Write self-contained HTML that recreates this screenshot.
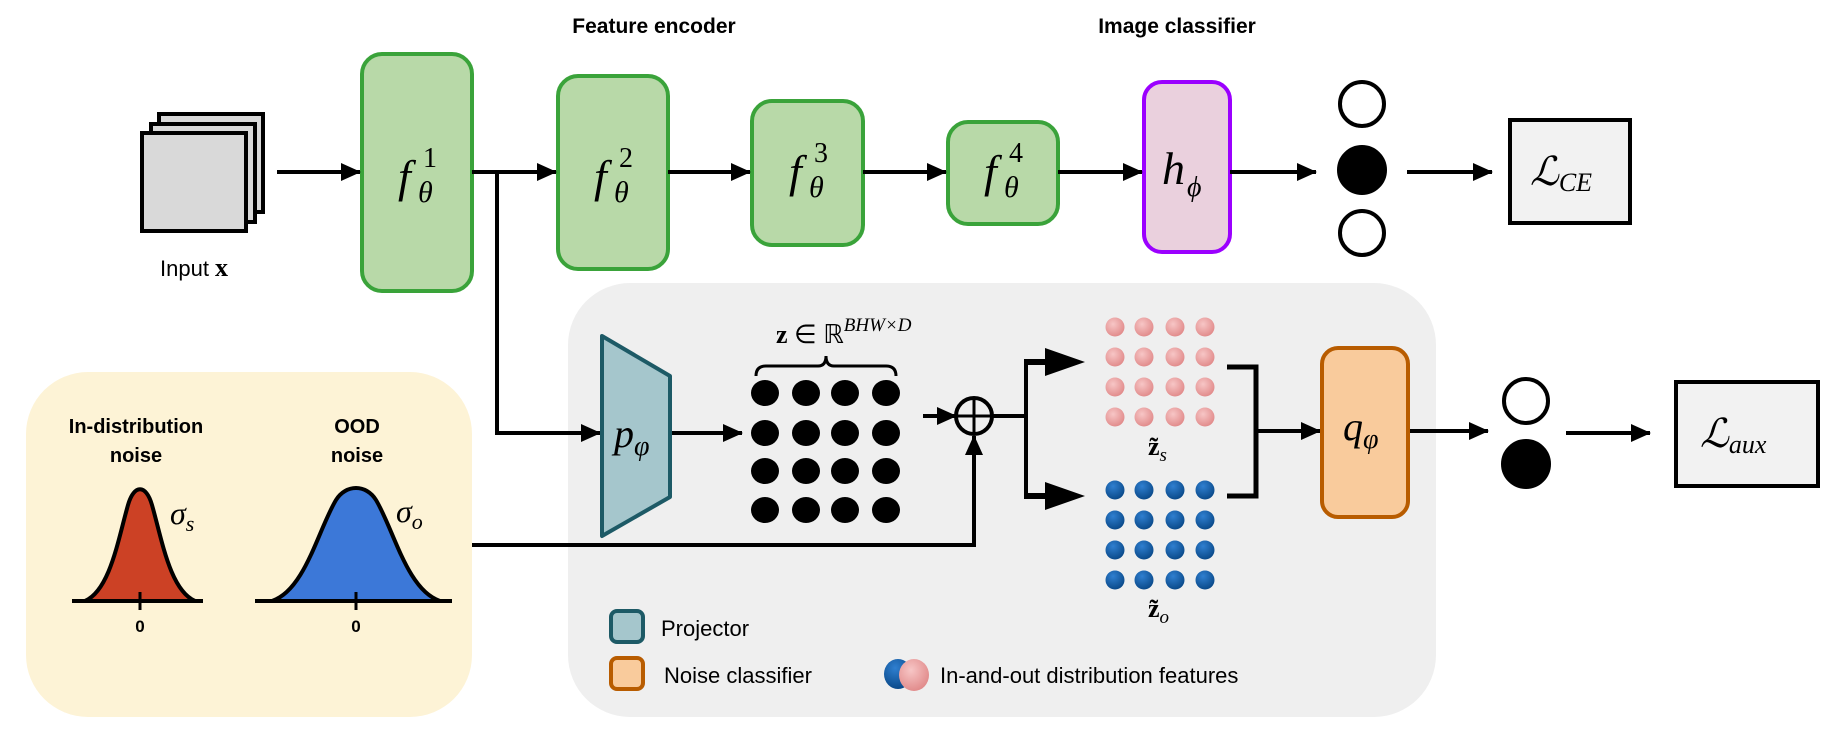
<!DOCTYPE html>
<html><head><meta charset="utf-8"><style>
html,body{margin:0;padding:0;background:#fff;}
svg{display:block;}
.m{font-family:"Liberation Serif",serif;font-style:italic;}
.s{font-family:"Liberation Sans",sans-serif;}
</style></head><body>
<svg width="1832" height="747" viewBox="0 0 1832 747" xmlns="http://www.w3.org/2000/svg">
<defs>
<marker id="a" markerWidth="20" markerHeight="18" refX="19" refY="9" orient="auto" markerUnits="userSpaceOnUse" viewBox="0 0 20 18"><path d="M0,0 L20,9 L0,18 z" fill="#000"/></marker>
<radialGradient id="pk" cx="0.4" cy="0.35" r="0.7"><stop offset="0" stop-color="#f7c6c6"/><stop offset="1" stop-color="#e08888"/></radialGradient>
<radialGradient id="bl" cx="0.4" cy="0.3" r="0.7"><stop offset="0" stop-color="#2f7fd0"/><stop offset="1" stop-color="#0b4a8a"/></radialGradient>
</defs>
<!-- panels -->
<rect x="26" y="372" width="446" height="345" rx="62" fill="#fdf3d6"/>
<rect x="568" y="283" width="868" height="434" rx="62" fill="#efefef"/>
<!-- titles -->
<text x="654" y="33" class="s" font-size="21" font-weight="bold" text-anchor="middle">Feature encoder</text>
<text x="1177" y="33" class="s" font-size="21" font-weight="bold" text-anchor="middle">Image classifier</text>
<!-- input stack -->
<rect x="159" y="114" width="104" height="98" fill="#d9d9d9" stroke="#000" stroke-width="4"/>
<rect x="151" y="124" width="104" height="98" fill="#d9d9d9" stroke="#000" stroke-width="4"/>
<rect x="142" y="133" width="104" height="98" fill="#d9d9d9" stroke="#000" stroke-width="4"/>
<text x="160" y="276" class="s" font-size="22">Input <tspan font-family="Liberation Serif" font-weight="bold" font-size="26">x</tspan></text>
<!-- encoder boxes -->
<g fill="#b8d9a8" stroke="#3aa33a" stroke-width="4">
<rect x="362" y="54" width="110" height="237" rx="20"/>
<rect x="558" y="76" width="110" height="193" rx="20"/>
<rect x="752" y="101" width="111" height="144" rx="20"/>
<rect x="948" y="122" width="110" height="102" rx="20"/>
</g>
<rect x="1144" y="82" width="86" height="170" rx="18" fill="#ead0dd" stroke="#9b00ff" stroke-width="4"/>
<g class="m" font-size="46">
<text x="398" y="192">f</text><text x="423" y="167" font-size="28" font-style="normal">1</text><text x="418" y="202" font-size="30">θ</text>
<text x="594" y="192">f</text><text x="619" y="167" font-size="28" font-style="normal">2</text><text x="614" y="202" font-size="30">θ</text>
<text x="789" y="187">f</text><text x="814" y="162" font-size="28" font-style="normal">3</text><text x="809" y="197" font-size="30">θ</text>
<text x="984" y="187">f</text><text x="1009" y="162" font-size="28" font-style="normal">4</text><text x="1004" y="197" font-size="30">θ</text>
<text x="1162" y="184">h</text><text x="1187" y="196" font-size="28">ϕ</text>
</g>
<!-- output circles -->
<g stroke="#000" stroke-width="4">
<ellipse cx="1362" cy="104" rx="22" ry="22" fill="#fff"/>
<ellipse cx="1362" cy="170" rx="23" ry="23" fill="#000"/>
<ellipse cx="1362" cy="233" rx="22" ry="22" fill="#fff"/>
<ellipse cx="1526" cy="401" rx="22" ry="22" fill="#fff"/>
<ellipse cx="1526" cy="464" rx="23" ry="23" fill="#000"/>
</g>
<rect x="1510" y="120" width="120" height="103" fill="#f2f2f2" stroke="#000" stroke-width="4"/>
<text x="1530" y="185" class="m" font-size="40">ℒ<tspan font-size="26" dy="6">CE</tspan></text>
<rect x="1676" y="382" width="142" height="104" fill="#f2f2f2" stroke="#000" stroke-width="4"/>
<text x="1700" y="447" class="m" font-size="40">ℒ<tspan font-size="26" dy="6">aux</tspan></text>
<!-- arrows -->
<g stroke="#000" stroke-width="4" fill="none" marker-end="url(#a)">
<line x1="277" y1="172" x2="360" y2="172"/>
<line x1="472" y1="172" x2="556" y2="172"/>
<line x1="668" y1="172" x2="750" y2="172"/>
<line x1="863" y1="172" x2="946" y2="172"/>
<line x1="1058" y1="172" x2="1142" y2="172"/>
<line x1="1230" y1="172" x2="1316" y2="172"/>
<line x1="1407" y1="172" x2="1492" y2="172"/>
<polyline points="497,172 497,433 600,433"/>
<line x1="670" y1="433" x2="742" y2="433"/>
<line x1="923" y1="416" x2="956" y2="416"/>
<polyline points="472,545 974,545 974,436"/>
<line x1="1256" y1="431" x2="1320" y2="431"/>
<line x1="1408" y1="431" x2="1488" y2="431"/>
<line x1="1566" y1="433" x2="1650" y2="433"/>
</g>
<!-- big arrows to features -->
<polyline points="992,416 1026,416" stroke="#000" stroke-width="4"/>
<polyline points="1026,362 1026,496" stroke="#000" stroke-width="4" fill="none"/>
<line x1="1024" y1="362" x2="1060" y2="362" stroke="#000" stroke-width="6"/>
<line x1="1024" y1="496" x2="1060" y2="496" stroke="#000" stroke-width="6"/>
<path d="M1045,348 L1085,362 L1045,376 z M1045,482 L1085,496 L1045,510 z"/>
<!-- bracket -->
<polyline points="1227,367 1256,367 1256,496 1227,496" stroke="#000" stroke-width="5" fill="none"/>
<!-- oplus -->
<circle cx="974" cy="416" r="18" fill="none" stroke="#000" stroke-width="4"/>
<line x1="956" y1="416" x2="992" y2="416" stroke="#000" stroke-width="3"/>
<line x1="974" y1="398" x2="974" y2="434" stroke="#000" stroke-width="3"/>
<!-- projector -->
<path d="M602,336 L670,376 L670,497 L602,536 z" fill="#a5c6cc" stroke="#1d5a66" stroke-width="4" stroke-linejoin="round"/>
<text x="614" y="447" class="m" font-size="40">p<tspan font-size="28" dy="8">φ</tspan></text>
<!-- black dots -->
<g fill="#000">
<ellipse cx="765" cy="393" rx="14" ry="13"/><ellipse cx="806" cy="393" rx="14" ry="13"/><ellipse cx="845" cy="393" rx="14" ry="13"/><ellipse cx="886" cy="393" rx="14" ry="13"/>
<ellipse cx="765" cy="433" rx="14" ry="13"/><ellipse cx="806" cy="433" rx="14" ry="13"/><ellipse cx="845" cy="433" rx="14" ry="13"/><ellipse cx="886" cy="433" rx="14" ry="13"/>
<ellipse cx="765" cy="471" rx="14" ry="13"/><ellipse cx="806" cy="471" rx="14" ry="13"/><ellipse cx="845" cy="471" rx="14" ry="13"/><ellipse cx="886" cy="471" rx="14" ry="13"/>
<ellipse cx="765" cy="510" rx="14" ry="13"/><ellipse cx="806" cy="510" rx="14" ry="13"/><ellipse cx="845" cy="510" rx="14" ry="13"/><ellipse cx="886" cy="510" rx="14" ry="13"/>
</g>
<path d="M756,376 Q756,366 766,366 L818,366 Q826,366 826,356 Q826,366 834,366 L886,366 Q896,366 896,376" fill="none" stroke="#000" stroke-width="3"/>
<text x="776" y="343" class="m" font-size="26"><tspan font-style="normal" font-weight="bold">z</tspan> <tspan font-style="normal">∈ ℝ</tspan><tspan font-size="19" dy="-12">BHW×D</tspan></text>
<!-- pink/blue dots -->
<g fill="url(#pk)">
<circle cx="1115" cy="327" r="9.5"/><circle cx="1144" cy="327" r="9.5"/><circle cx="1175" cy="327" r="9.5"/><circle cx="1205" cy="327" r="9.5"/>
<circle cx="1115" cy="357" r="9.5"/><circle cx="1144" cy="357" r="9.5"/><circle cx="1175" cy="357" r="9.5"/><circle cx="1205" cy="357" r="9.5"/>
<circle cx="1115" cy="387" r="9.5"/><circle cx="1144" cy="387" r="9.5"/><circle cx="1175" cy="387" r="9.5"/><circle cx="1205" cy="387" r="9.5"/>
<circle cx="1115" cy="417" r="9.5"/><circle cx="1144" cy="417" r="9.5"/><circle cx="1175" cy="417" r="9.5"/><circle cx="1205" cy="417" r="9.5"/>
</g>
<g fill="url(#bl)">
<circle cx="1115" cy="490" r="9.5"/><circle cx="1144" cy="490" r="9.5"/><circle cx="1175" cy="490" r="9.5"/><circle cx="1205" cy="490" r="9.5"/>
<circle cx="1115" cy="520" r="9.5"/><circle cx="1144" cy="520" r="9.5"/><circle cx="1175" cy="520" r="9.5"/><circle cx="1205" cy="520" r="9.5"/>
<circle cx="1115" cy="550" r="9.5"/><circle cx="1144" cy="550" r="9.5"/><circle cx="1175" cy="550" r="9.5"/><circle cx="1205" cy="550" r="9.5"/>
<circle cx="1115" cy="580" r="9.5"/><circle cx="1144" cy="580" r="9.5"/><circle cx="1175" cy="580" r="9.5"/><circle cx="1205" cy="580" r="9.5"/>
</g>
<text x="1148" y="455" class="m" font-size="26"><tspan font-style="normal" font-weight="bold">z̃</tspan><tspan font-size="19" dy="6">s</tspan></text>
<text x="1148" y="617" class="m" font-size="26"><tspan font-style="normal" font-weight="bold">z̃</tspan><tspan font-size="19" dy="6">o</tspan></text>
<!-- q box -->
<rect x="1322" y="348" width="86" height="169" rx="16" fill="#f9cb9c" stroke="#b85c00" stroke-width="4"/>
<text x="1343" y="440" class="m" font-size="40">q<tspan font-size="28" dy="8">φ</tspan></text>
<!-- legend -->
<rect x="611" y="611" width="32" height="31" rx="6" fill="#a5c6cc" stroke="#1d5a66" stroke-width="4"/>
<text x="661" y="636" class="s" font-size="22">Projector</text>
<rect x="611" y="658" width="32" height="31" rx="6" fill="#f9cb9c" stroke="#b85c00" stroke-width="4"/>
<text x="664" y="683" class="s" font-size="22">Noise classifier</text>
<ellipse cx="898" cy="674" rx="14" ry="15" fill="url(#bl)"/>
<ellipse cx="914" cy="675" rx="15" ry="16" fill="url(#pk)"/>
<text x="940" y="683" class="s" font-size="22">In-and-out distribution features</text>
<!-- yellow panel contents -->
<g class="s" font-size="20" font-weight="bold" text-anchor="middle">
<text x="136" y="433">In-distribution</text><text x="136" y="462">noise</text>
<text x="357" y="433">OOD</text><text x="357" y="462">noise</text>
<text x="140" y="632" font-size="17">0</text><text x="356" y="632" font-size="17">0</text>
</g>
<path d="M85,601 C110,590 118,540 128,505 C134,484 146,484 152,505 C162,540 170,590 195,601 z" fill="#cc4125" stroke="#000" stroke-width="4" stroke-linejoin="round"/>
<path d="M272,601 C305,590 318,530 336,500 C346,484 366,484 376,500 C394,530 407,590 440,601 z" fill="#3c78d8" stroke="#000" stroke-width="4" stroke-linejoin="round"/>
<line x1="72" y1="601" x2="203" y2="601" stroke="#000" stroke-width="4"/>
<line x1="255" y1="601" x2="452" y2="601" stroke="#000" stroke-width="4"/>
<line x1="140" y1="592" x2="140" y2="610" stroke="#000" stroke-width="3"/>
<line x1="356" y1="592" x2="356" y2="610" stroke="#000" stroke-width="3"/>
<text x="170" y="524" class="m" font-size="32">σ<tspan font-size="22" dy="7">s</tspan></text>
<text x="396" y="522" class="m" font-size="32">σ<tspan font-size="22" dy="7">o</tspan></text>
</svg>
</body></html>
